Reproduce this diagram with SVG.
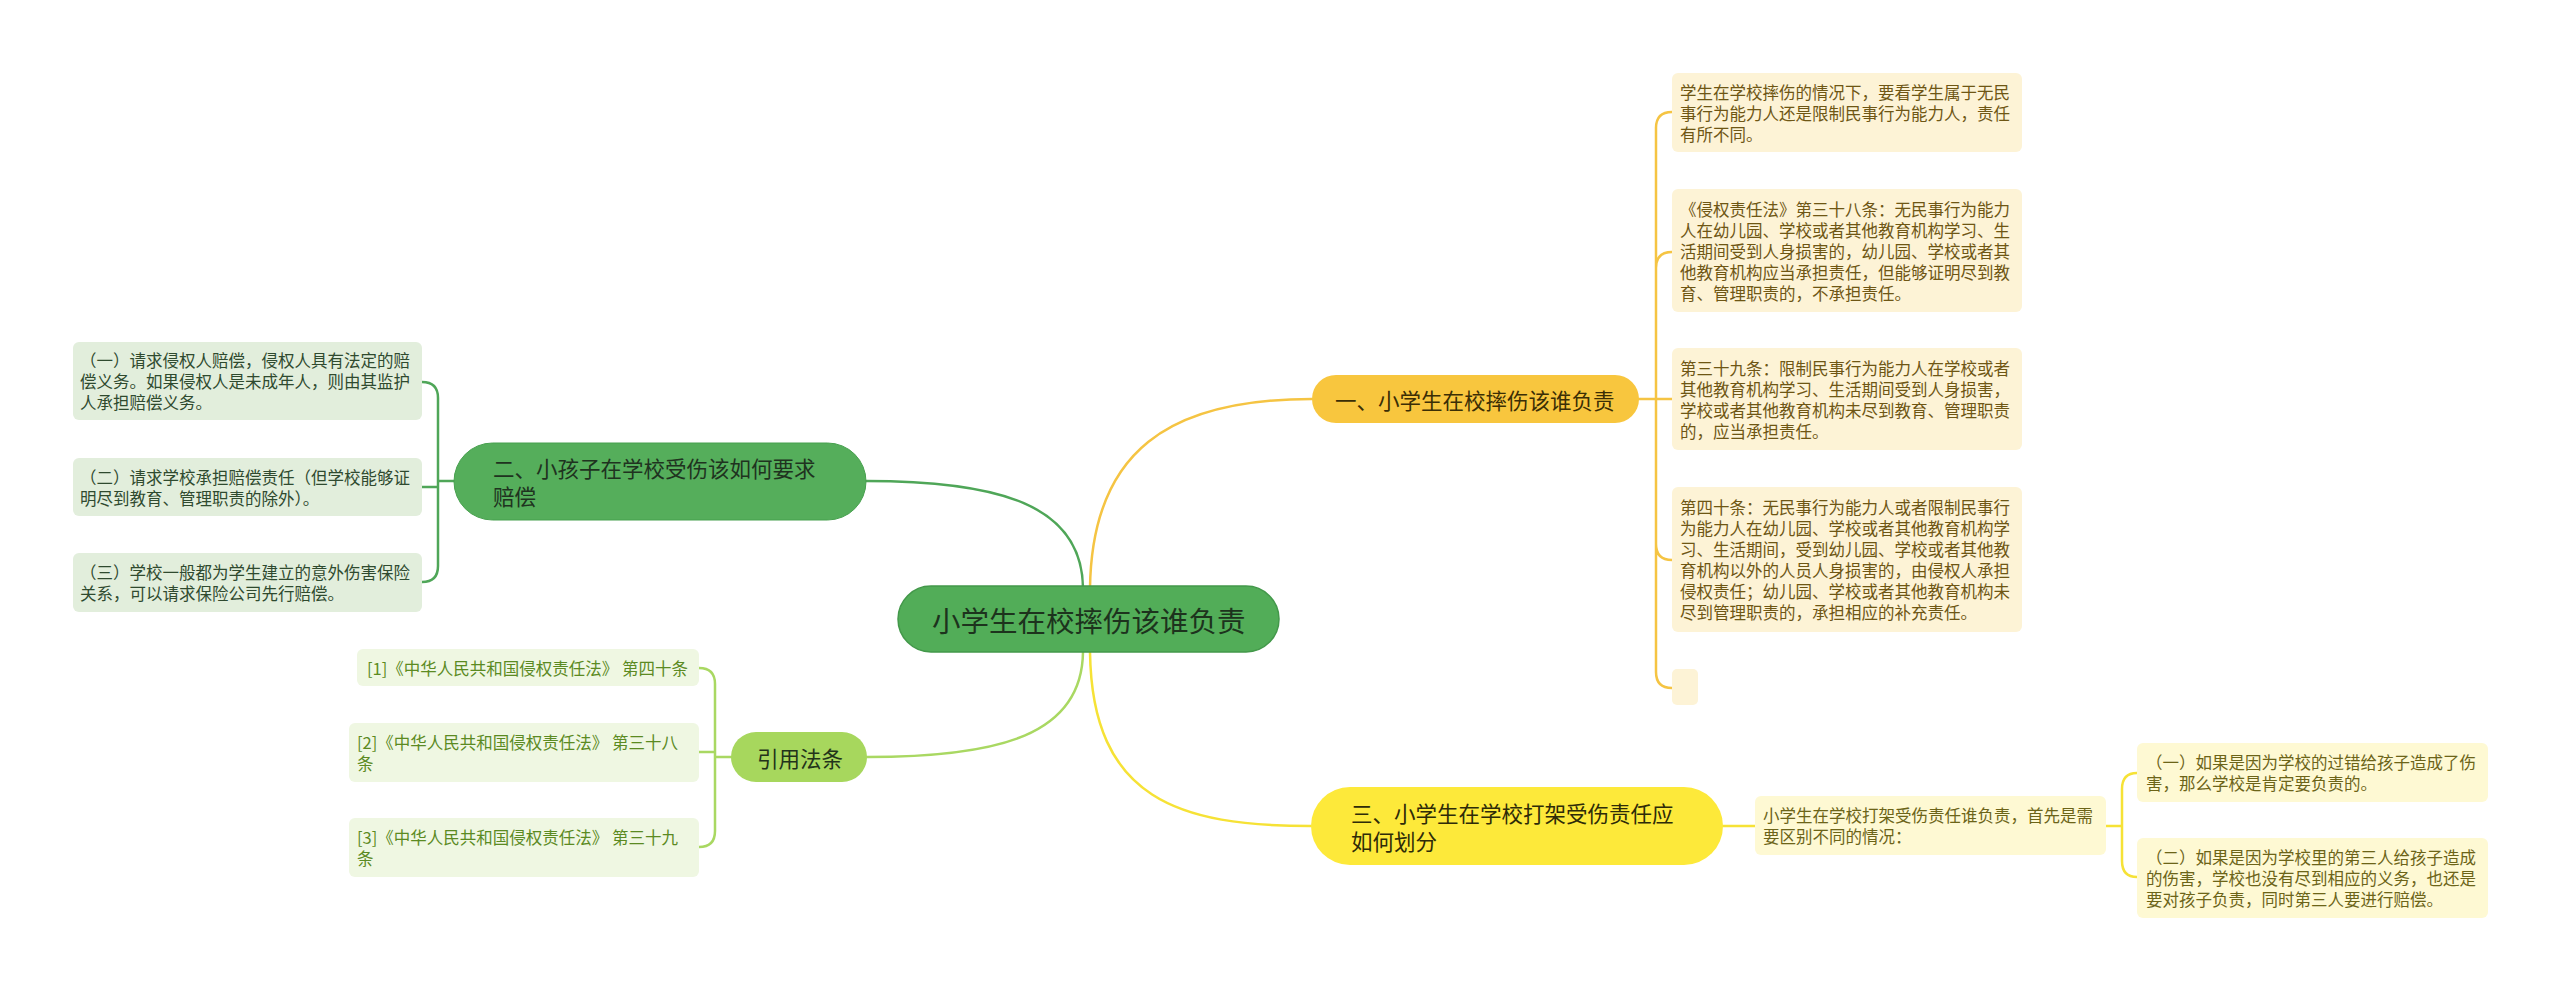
<svg xmlns="http://www.w3.org/2000/svg" width="2560" height="991" viewBox="0 0 2560 991">
<style>
text{font-family:"Noto Sans CJK SC","Microsoft YaHei",sans-serif;dominant-baseline:central}
.t1{font-size:16.5px}
.big{font-size:21.5px}
.c{fill:none;stroke-width:2.5;stroke-linecap:round}
.c1{stroke:#f5c443}.c2{stroke:#4fa658}.c3{stroke:#a9d862}.c4{stroke:#f6e236}
.bx1{fill:#fdf3d6}.tx1{fill:#6e5614}
.bx2{fill:#e2eedc}.tx2{fill:#2f4a2f}
.bx3{fill:#eff7e2}.tx3{fill:#5b8a22}
.bx4{fill:#fef9d3}.tx4{fill:#6c6418}
</style>
<rect width="2560" height="991" fill="#ffffff"/>
<g id="connectors">
<path class="c c1" d="M1090,588 C1092,450 1170,399 1312,399"/>
<path class="c c2" d="M1083,588 C1082,505 1000,481 866,481"/>
<path class="c c3" d="M1083,652 C1082,735 1000,757 867,757"/>
<path class="c c4" d="M1090,652 C1092,800 1180,826 1311,826"/>
<path class="c c1" d="M1638,399 H1656 M1656,399 V128 Q1656,112 1672,112 M1656,399 V268 Q1656,252 1672,252 M1656,399 H1672 M1656,399 V544 Q1656,560 1672,560 M1656,399 V672 Q1656,688 1672,688"/>
<path class="c c2" d="M454,481 H438 M438,481 V398 Q438,382 422,382 M438,481 V487 H422 M438,481 V566 Q438,582 422,582"/>
<path class="c c3" d="M731,757 H715 M715,757 V684 Q715,668 699,668 M715,757 V752 H699 M715,757 V831 Q715,847 699,847"/>
<path class="c c4" d="M1723,826 H1755 M2106,826 H2122 M2122,826 V789 Q2122,773 2137,773 M2122,826 V861 Q2122,877 2137,877"/>
</g>
<g id="center">
<rect x="898" y="586" width="381" height="66" rx="33" fill="#52ad58" stroke="#43984a" stroke-width="1.5"/>
<text x="932" y="619.5" font-size="28.5" fill="#1d331d">小学生在校摔伤该谁负责</text>
</g>
<g id="n1">
<rect x="1312" y="375" width="327" height="48" rx="24" fill="#f8c63e"/>
<text class="big" x="1335" y="399" fill="#3b2e05">一、小学生在校摔伤该谁负责</text>
</g>
<g id="n1a">
<rect class="bx1" x="1672" y="73" width="350" height="79" rx="6"/>
<text class="t1 tx1" x="1680" y="91.5">学生在学校摔伤的情况下，要看学生属于无民</text>
<text class="t1 tx1" x="1680" y="112.5">事行为能力人还是限制民事行为能力人，责任</text>
<text class="t1 tx1" x="1680" y="133.5">有所不同。</text>
</g>
<g id="n1b">
<rect class="bx1" x="1672" y="189" width="350" height="123" rx="6"/>
<text class="t1 tx1" x="1680" y="208.5">《侵权责任法》第三十八条：无民事行为能力</text>
<text class="t1 tx1" x="1680" y="229.5">人在幼儿园、学校或者其他教育机构学习、生</text>
<text class="t1 tx1" x="1680" y="250.5">活期间受到人身损害的，幼儿园、学校或者其</text>
<text class="t1 tx1" x="1680" y="271.5">他教育机构应当承担责任，但能够证明尽到教</text>
<text class="t1 tx1" x="1680" y="292.5">育、管理职责的，不承担责任。</text>
</g>
<g id="n1c">
<rect class="bx1" x="1672" y="348" width="350" height="102" rx="6"/>
<text class="t1 tx1" x="1680" y="367.5">第三十九条：限制民事行为能力人在学校或者</text>
<text class="t1 tx1" x="1680" y="388.5">其他教育机构学习、生活期间受到人身损害，</text>
<text class="t1 tx1" x="1680" y="409.5">学校或者其他教育机构未尽到教育、管理职责</text>
<text class="t1 tx1" x="1680" y="430.5">的，应当承担责任。</text>
</g>
<g id="n1d">
<rect class="bx1" x="1672" y="487" width="350" height="145" rx="6"/>
<text class="t1 tx1" x="1680" y="507">第四十条：无民事行为能力人或者限制民事行</text>
<text class="t1 tx1" x="1680" y="528">为能力人在幼儿园、学校或者其他教育机构学</text>
<text class="t1 tx1" x="1680" y="549">习、生活期间，受到幼儿园、学校或者其他教</text>
<text class="t1 tx1" x="1680" y="570">育机构以外的人员人身损害的，由侵权人承担</text>
<text class="t1 tx1" x="1680" y="591">侵权责任；幼儿园、学校或者其他教育机构未</text>
<text class="t1 tx1" x="1680" y="612">尽到管理职责的，承担相应的补充责任。</text>
</g>
<g id="n1e">
<rect class="bx1" x="1672" y="669" width="26" height="36" rx="5"/>
</g>
<g id="n2">
<rect x="454" y="443" width="412" height="77" rx="38.5" fill="#55ae5b" stroke="#47a04e" stroke-width="1"/>
<text class="big" x="493" y="467.5" fill="#1f331f">二、小孩子在学校受伤该如何要求</text>
<text class="big" x="493" y="495.5" fill="#1f331f">赔偿</text>
</g>
<g id="n2a">
<rect class="bx2" x="73" y="342" width="349" height="78" rx="6"/>
<text class="t1 tx2" x="80" y="360">（一）请求侵权人赔偿，侵权人具有法定的赔</text>
<text class="t1 tx2" x="80" y="381">偿义务。如果侵权人是未成年人，则由其监护</text>
<text class="t1 tx2" x="80" y="402">人承担赔偿义务。</text>
</g>
<g id="n2b">
<rect class="bx2" x="73" y="458" width="349" height="58" rx="6"/>
<text class="t1 tx2" x="80" y="476.5">（二）请求学校承担赔偿责任（但学校能够证</text>
<text class="t1 tx2" x="80" y="497.5">明尽到教育、管理职责的除外）。</text>
</g>
<g id="n2c">
<rect class="bx2" x="73" y="553" width="349" height="59" rx="6"/>
<text class="t1 tx2" x="80" y="572">（三）学校一般都为学生建立的意外伤害保险</text>
<text class="t1 tx2" x="80" y="593">关系，可以请求保险公司先行赔偿。</text>
</g>
<g id="n3">
<rect x="731" y="732" width="136" height="50" rx="25" fill="#a7d75d"/>
<text class="big" x="757" y="757" fill="#22331a">引用法条</text>
</g>
<g id="n3a">
<rect class="bx3" x="357" y="649" width="342" height="37" rx="6"/>
<text class="t1 tx3" x="367" y="667.5">[1]《中华人民共和国侵权责任法》 第四十条</text>
</g>
<g id="n3b">
<rect class="bx3" x="349" y="723" width="350" height="59" rx="6"/>
<text class="t1 tx3" x="357" y="742">[2]《中华人民共和国侵权责任法》 第三十八</text>
<text class="t1 tx3" x="357" y="763">条</text>
</g>
<g id="n3c">
<rect class="bx3" x="349" y="818" width="350" height="59" rx="6"/>
<text class="t1 tx3" x="357" y="837">[3]《中华人民共和国侵权责任法》 第三十九</text>
<text class="t1 tx3" x="357" y="858">条</text>
</g>
<g id="n4">
<rect x="1311" y="787" width="412" height="78" rx="39" fill="#fde93a"/>
<text class="big" x="1351" y="812" fill="#2e2b08">三、小学生在学校打架受伤责任应</text>
<text class="big" x="1351" y="840" fill="#2e2b08">如何划分</text>
</g>
<g id="n4a">
<rect class="bx4" x="1755" y="796" width="351" height="59" rx="6"/>
<text class="t1 tx4" x="1763" y="815">小学生在学校打架受伤责任谁负责，首先是需</text>
<text class="t1 tx4" x="1763" y="836">要区别不同的情况：</text>
</g>
<g id="n4b">
<rect class="bx4" x="2137" y="743" width="351" height="59" rx="6"/>
<text class="t1 tx4" x="2146" y="762">（一）如果是因为学校的过错给孩子造成了伤</text>
<text class="t1 tx4" x="2146" y="783">害，那么学校是肯定要负责的。</text>
</g>
<g id="n4c">
<rect class="bx4" x="2137" y="838" width="351" height="80" rx="6"/>
<text class="t1 tx4" x="2146" y="857">（二）如果是因为学校里的第三人给孩子造成</text>
<text class="t1 tx4" x="2146" y="878">的伤害，学校也没有尽到相应的义务，也还是</text>
<text class="t1 tx4" x="2146" y="899">要对孩子负责，同时第三人要进行赔偿。</text>
</g>
</svg>
